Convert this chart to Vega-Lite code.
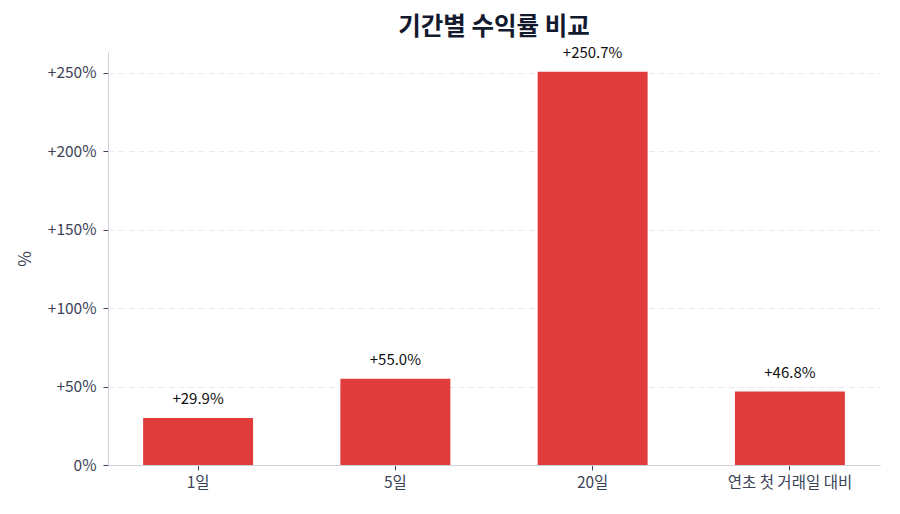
{
  "$schema": "https://vega.github.io/schema/vega-lite/v6.json",
  "width": 772,
  "height": 413,
  "autosize": "none",
  "padding": {"left": 108, "top": 52, "right": 20, "bottom": 49},
  "background": "white",
  "config": {
    "font": "Noto Sans CJK KR",
    "view": {"stroke": null}
  },
  "title": {
    "text": "기간별 수익률 비교",
    "fontSize": 24.5,
    "fontWeight": "bold",
    "color": "#141a2e",
    "anchor": "middle",
    "offset": 5
  },
  "data": {
    "values": [
      {"period": "1일", "ret": 29.9, "label": "+29.9%"},
      {"period": "5일", "ret": 55.0, "label": "+55.0%"},
      {"period": "20일", "ret": 250.7, "label": "+250.7%"},
      {"period": "연초 첫 거래일 대비", "ret": 46.8, "label": "+46.8%"}
    ]
  },
  "encoding": {
    "x": {
      "field": "period",
      "type": "nominal",
      "sort": null,
      "scale": {"paddingInner": 0.4425, "paddingOuter": 0.178},
      "axis": {
        "title": null,
        "labelAngle": 0,
        "labelFontSize": 15.5,
        "labelColor": "#3b4357",
        "labelPadding": 5,
        "tickColor": "#3b4357",
        "tickSize": 5,
        "domainColor": "#cdd1d9",
        "grid": false
      }
    },
    "y": {
      "field": "ret",
      "type": "quantitative",
      "scale": {"domain": [0, 263.3], "nice": false},
      "axis": {
        "title": "%",
        "titleFontSize": 17,
        "titleFontWeight": "normal",
        "titleColor": "#3b4357",
        "titlePadding": 13,
        "values": [0, 50, 100, 150, 200, 250],
        "labelExpr": "datum.value > 0 ? '+' + datum.value + '%' : datum.value + '%'",
        "labelFontSize": 15.5,
        "labelColor": "#3b4357",
        "labelPadding": 7,
        "tickColor": "#3b4357",
        "tickSize": 5,
        "domainColor": "#cdd1d9",
        "gridColor": "#e8eaee",
        "gridDash": [6, 4]
      }
    }
  },
  "layer": [
    {
      "mark": {"type": "bar", "color": "#e03c3c"}
    },
    {
      "mark": {"type": "text", "baseline": "bottom", "dy": -11, "fontSize": 15, "color": "#111111"},
      "encoding": {"text": {"field": "label"}}
    }
  ]
}
